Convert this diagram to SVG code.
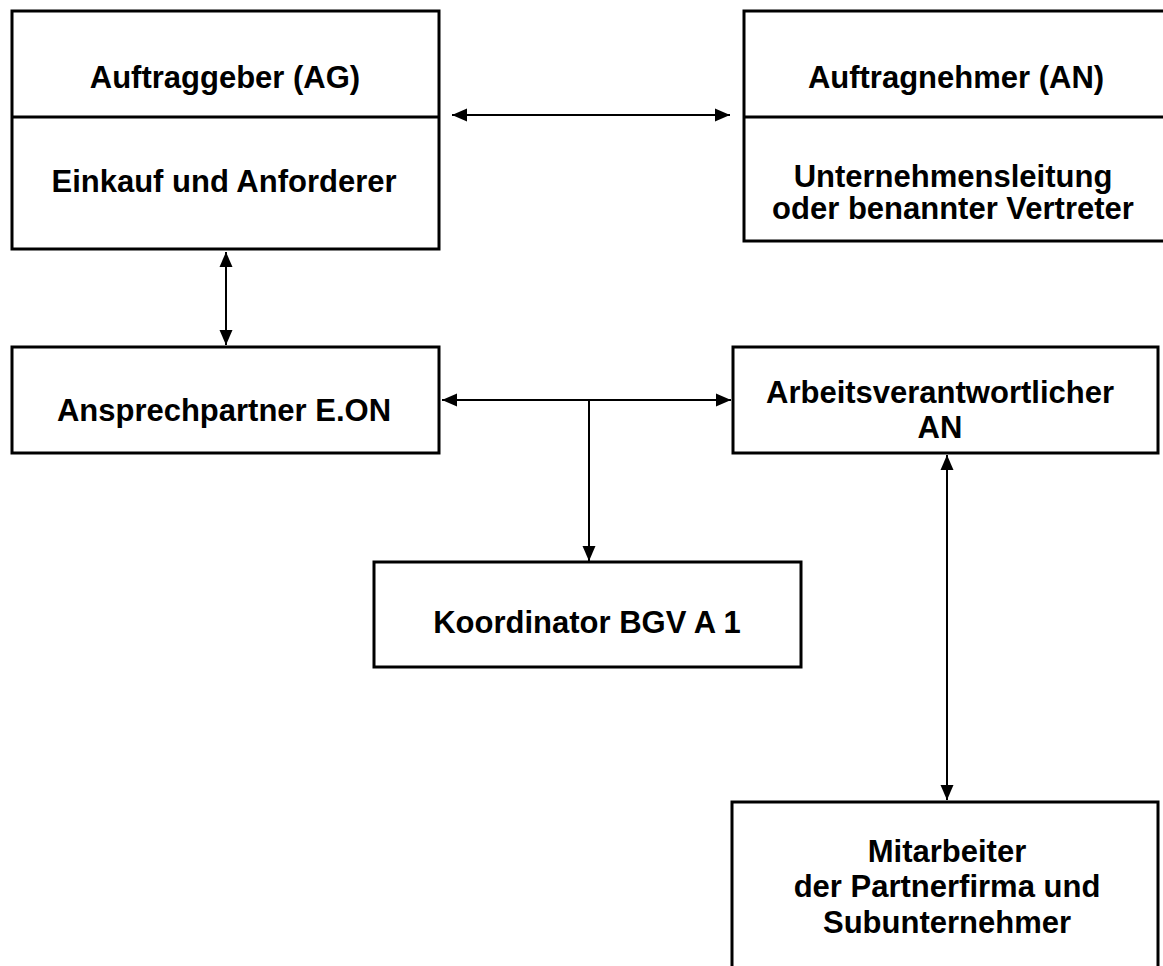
<svg xmlns="http://www.w3.org/2000/svg" width="1163" height="966" viewBox="0 0 1163 966">
<style>
.box{fill:#fff;stroke:#000;stroke-width:3}
.div{stroke:#000;stroke-width:3}
.t{font-family:"Liberation Sans",Arial,sans-serif;font-weight:bold;font-size:31px;fill:#000;text-anchor:middle}
.c{stroke:#000;stroke-width:2;fill:none}
.a2{marker-start:url(#ah);marker-end:url(#ah)}
.a1{marker-end:url(#ah)}
</style>
<defs>
<marker id="ah" markerUnits="userSpaceOnUse" viewBox="0 -7 15 14" refX="15" refY="0" markerWidth="15" markerHeight="14" orient="auto-start-reverse">
<path d="M0,-6.5 L15,0 L0,6.5 z" fill="#000"/>
</marker>
</defs>
<rect width="1163" height="966" fill="#fff"/>
<g id="ag">
<rect class="box" x="12" y="11" width="427" height="238"/>
<line class="div" x1="12" y1="117" x2="439" y2="117"/>
<text class="t" x="225" y="88">Auftraggeber (AG)</text>
<text class="t" x="224" y="192">Einkauf und Anforderer</text>
</g>
<g id="an">
<rect class="box" x="744" y="11" width="422" height="230"/>
<line class="div" x1="744" y1="117" x2="1166" y2="117"/>
<text class="t" x="956" y="88">Auftragnehmer (AN)</text>
<text class="t" x="953" y="187">Unternehmensleitung</text>
<text class="t" x="953" y="219">oder benannter Vertreter</text>
</g>
<g id="ansprechpartner">
<rect class="box" x="12" y="347" width="427" height="106"/>
<text class="t" x="224" y="421">Ansprechpartner E.ON</text>
</g>
<g id="arbeitsverantwortlicher">
<rect class="box" x="733" y="347" width="425" height="106"/>
<text class="t" x="940" y="403">Arbeitsverantwortlicher</text>
<text class="t" x="940" y="438">AN</text>
</g>
<g id="koordinator">
<rect class="box" x="374" y="562" width="427" height="105"/>
<text class="t" x="587" y="633">Koordinator BGV A 1</text>
</g>
<g id="mitarbeiter">
<rect class="box" x="732" y="802" width="426" height="180"/>
<text class="t" x="947" y="862">Mitarbeiter</text>
<text class="t" x="947" y="897">der Partnerfirma und</text>
<text class="t" x="947" y="933">Subunternehmer</text>
</g>
<g id="connectors">
<line class="c a2" x1="452" y1="115" x2="730" y2="115"/>
<line class="c a2" x1="226" y1="252" x2="226" y2="345"/>
<line class="c a2" x1="442" y1="400" x2="731" y2="400"/>
<line class="c a1" x1="589" y1="400" x2="589" y2="561"/>
<line class="c a2" x1="947" y1="455" x2="947" y2="800"/>
</g>
</svg>
